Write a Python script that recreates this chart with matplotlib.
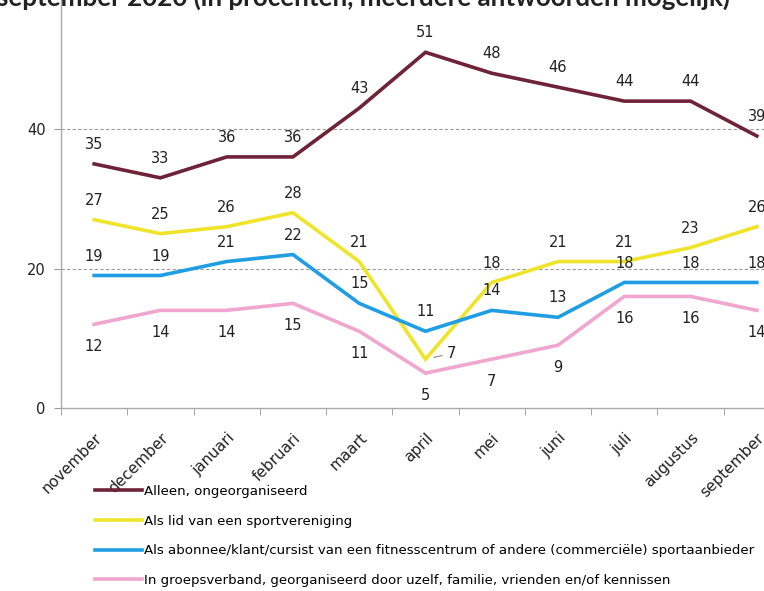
import matplotlib
matplotlib.use("Agg")
import matplotlib.pyplot as plt
from matplotlib.lines import Line2D

months = ["november", "december", "januari", "februari", "maart", "april",
          "mei", "juni", "juli", "augustus", "september"]
alleen = [35, 33, 36, 36, 43, 51, 48, 46, 44, 44, 39]
lid = [27, 25, 26, 28, 21, 7, 18, 21, 21, 23, 26]
abonnee = [19, 19, 21, 22, 15, 11, 14, 13, 18, 18, 18]
groep = [12, 14, 14, 15, 11, 5, 7, 9, 16, 16, 14]

series_names = [
    "Alleen, ongeorganiseerd",
    "Als lid van een sportvereniging",
    "Als abonnee/klant/cursist van een fitnesscentrum of andere (commerciële) sportaanbieder",
    "In groepsverband, georganiseerd door uzelf, familie, vrienden en/of kennissen",
]
colors = ["#6e2339", "#f0e42a", "#1f9ee3", "#f0a6cf"]
yticks = [0, 20, 40]
title = "september 2020 (in procenten, meerdere antwoorden mogelijk)"

plt.rcParams["font.family"] = ["DejaVu Sans"]
fig = plt.figure(figsize=(7.64, 5.91), dpi=100)
W, H = 764, 591
ax = fig.add_axes([61 / W, 183 / H, 729 / W, 408 / H])
x = list(range(len(months)))

for vals, c in zip([alleen, lid, abonnee, groep], colors):
    ax.plot(x, vals, color=c, lw=2.6, solid_joinstyle="miter", zorder=3)

def lab(vals, dy, skip=()):
    for i, v in enumerate(vals):
        if i in skip:
            continue
        ax.annotate(str(v), (i, v), xytext=(0, dy), textcoords="offset points",
                    ha="center", va="center", fontsize=10.5, color="#222222")

lab(alleen, 14)
lab(lid, 14, skip=(5,))
lab(abonnee, 14)
lab(groep, -16)
# april label for lid with leader line
ax.annotate(str(lid[5]), (5, lid[5]), xytext=(15, 4), textcoords="offset points",
            ha="left", va="center", fontsize=10.5, color="#222222",
            arrowprops=dict(arrowstyle="-", color="#888888", lw=0.8,
                            shrinkA=1, shrinkB=6))

ax.set_xlim(-0.5, len(months) - 0.5)
ax.set_ylim(0, 58.5)
ax.set_yticks(yticks)
ax.set_yticklabels([str(t) for t in yticks], fontsize=10.5, color="#222222")
ax.tick_params(axis="y", length=5, color="#999999", pad=6)
ax.set_xticks(x)
ax.set_xticklabels(months, rotation=45, ha="right", rotation_mode="anchor",
                   fontsize=11, color="#222222")
ax.set_xticks([i - 0.5 for i in range(len(months) + 1)], minor=True)
ax.tick_params(axis="x", which="major", length=0, pad=16)
ax.tick_params(axis="x", which="minor", length=5, color="#999999")

for t in [20, 40]:
    ax.axhline(t, color="#9a9a9a", lw=0.8, ls=(0, (3, 2)), zorder=1)

for s in ["top", "right"]:
    ax.spines[s].set_visible(False)
for s in ["left", "bottom"]:
    ax.spines[s].set_color("#aaaaaa")
    ax.spines[s].set_linewidth(1.0)

handles = [Line2D([0], [0], color=c, lw=2.6) for c in colors]
fig.legend(handles, series_names, loc="upper left",
           bbox_to_anchor=(95 / W, 1 - 485 / H), frameon=False,
           fontsize=9.6, handlelength=3.5, handletextpad=0.15,
           labelspacing=1.25, borderaxespad=0, borderpad=0)

fig.text(730 / W, 1 - 6 / H, title, ha="right", va="baseline",
         fontsize=18.6, fontweight="bold", color="#222222", family="Lato")

fig.savefig("out.png", dpi=100)
